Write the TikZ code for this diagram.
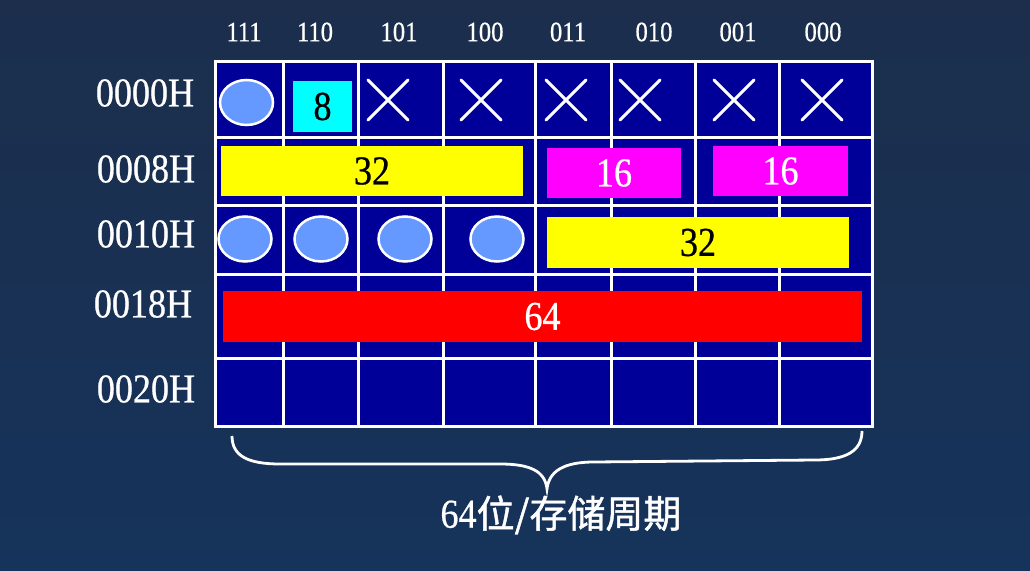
\documentclass[tikz,border=0pt]{standalone}
\usepackage{fontspec}
\setmainfont{Liberation Serif}
\newfontfamily\numfont[FakeStretch=0.88,FakeBold=0.6]{Liberation Serif}
\newfontfamily\cjk[FakeBold=1.2]{Noto Sans CJK SC}
\definecolor{bgtop}{HTML}{1C2E4C}
\definecolor{bgbot}{HTML}{16335B}
\definecolor{cellc}{HTML}{000099}
\definecolor{ovalc}{HTML}{6699FF}
\definecolor{cyanc}{HTML}{00FFFF}
\definecolor{yellowc}{HTML}{FFFF00}
\definecolor{magentac}{HTML}{FF00FF}
\definecolor{redc}{HTML}{FF0000}
\usetikzlibrary{shapes.geometric}
\begin{document}
\begin{tikzpicture}[x=1bp,y=-1bp,
  toplab/.style={text=white,font=\numfont\fontsize{28bp}{28bp}\selectfont,inner sep=0pt},
  rowlab/.style={text=white,font=\numfont\fontsize{41bp}{41bp}\selectfont,inner sep=0pt},
  bar/.style={draw=none,inner sep=0pt,font=\numfont\fontsize{41bp}{41bp}\selectfont},
  oval/.style={ellipse,draw=white,line width=2.5bp,fill=ovalc,minimum width=53bp,minimum height=45bp,inner sep=0pt},
  cross/.style={white,line width=3bp,line cap=round},
  gridline/.style={white,line width=3bp},
  bracestyle/.style={white,line width=2.8bp}]
\shade[top color=bgtop,bottom color=bgbot] (0,0) rectangle (1030,571);
\useasboundingbox (0,0) rectangle (1030,571);
% table
\fill[cellc] (215,62) rectangle (872,426);
\foreach \x in {283,358,443,535,611,695,779}
  \draw[gridline] (\x,62) -- (\x,426);
\foreach \y in {138,206,274,358}
  \draw[gridline] (215,\y) -- (872,\y);
\draw[gridline,line join=miter] (215,62) rectangle (872,426);
% top labels
\node[toplab] (c111) at (244,32) {111};
\node[toplab] (c110) at (315,32) {110};
\node[toplab] (c101) at (399,32) {101};
\node[toplab] (c100) at (485,32) {100};
\node[toplab] (c011) at (568,32) {011};
\node[toplab] (c010) at (654,32) {010};
\node[toplab] (c001) at (738,32) {001};
\node[toplab] (c000) at (823,32) {000};
% row labels
\node[rowlab] (r0) at (145,93) {0000H};
\node[rowlab] (r1) at (146,169) {0008H};
\node[rowlab] (r2) at (146,234) {0010H};
\node[rowlab] (r3) at (143,304) {0018H};
\node[rowlab] (r4) at (146,389) {0020H};
% row 1
\node[oval] (o1) at (246.5,102.5) {};
\node[bar,fill=cyanc,minimum width=59bp,minimum height=51bp,text=black] (b8) at (322.5,106.5) {8};
\foreach \cx in {388,481,566,640,734,822}
  \draw[cross] (\cx-20,80) -- (\cx+20,120) (\cx-20,120) -- (\cx+20,80);
% row 2
\node[bar,fill=yellowc,minimum width=302bp,minimum height=50bp,text=black] (y1) at (372,171) {32};
\node[bar,fill=magentac,minimum width=134bp,minimum height=50bp,text=white] (m1) at (614,173) {16};
\node[bar,fill=magentac,minimum width=135bp,minimum height=50bp,text=white] (m2) at (780.5,171) {16};
% row 3
\node[oval] (o2) at (245,239) {};
\node[oval] (o3) at (321,239) {};
\node[oval] (o4) at (405,239) {};
\node[oval] (o5) at (497,239) {};
\node[bar,fill=yellowc,minimum width=302bp,minimum height=51bp,text=black] (y2) at (698,242.5) {32};
% row 4
\node[bar,fill=redc,minimum width=639bp,minimum height=51bp,text=white] (rd) at (542.5,316.5) {64};
% brace
\coordinate (bl) at (232,436);
\coordinate (bt) at (547,489);
\coordinate (br) at (862,431);
\draw[bracestyle] (bl) .. controls (232,456) and (248,464) .. (280,464)
  -- (500,464) .. controls (530,464) and (545,471) .. (bt)
  .. controls (549,471) and (564,462) .. (594,462)
  -- (815,460) .. controls (846,460) and (862,451) .. (br);
\node[text=white,inner sep=0pt] (cap) at (561,515) {{\numfont\fontsize{41bp}{41bp}\selectfont 64}{\cjk\fontsize{38bp}{38bp}\selectfont 位/存储周期}};
\end{tikzpicture}
\end{document}
